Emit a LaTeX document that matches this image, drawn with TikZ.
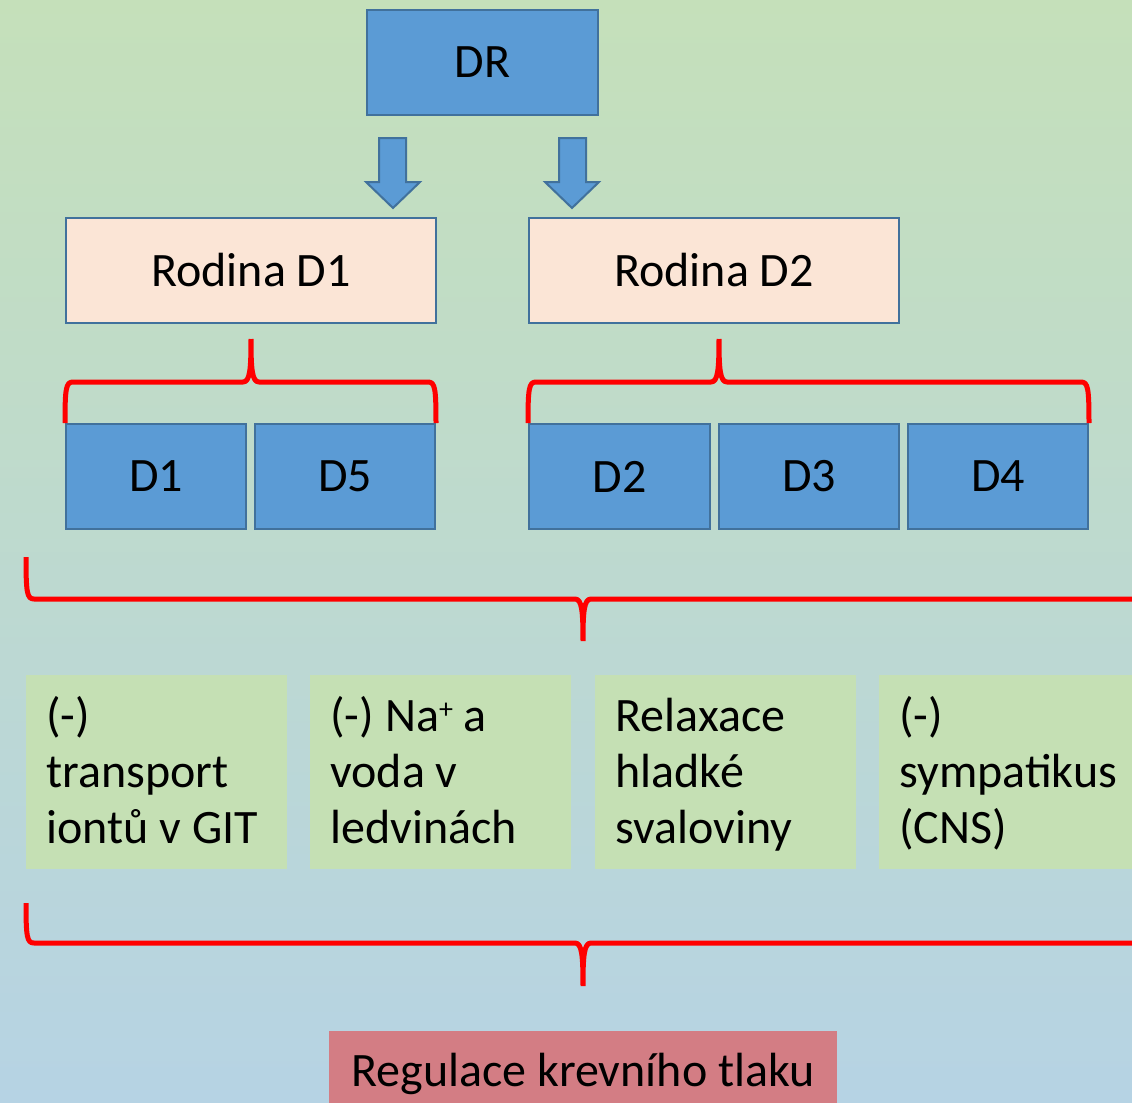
\documentclass[tikz,border=0pt]{standalone}
\usepackage{fontspec}
\setmainfont{Carlito}
\usetikzlibrary{calc}
\definecolor{bgtop}{HTML}{C5E0BA}
\definecolor{bgbot}{HTML}{B6D3E4}
\definecolor{boxblue}{HTML}{5B9BD5}
\definecolor{boxedge}{HTML}{41719C}
\definecolor{boxpeach}{HTML}{FBE5D6}
\definecolor{boxgreen}{HTML}{C5E0B4}
\definecolor{boxred}{HTML}{D37D84}
\newcommand\drawredbrace[4]{%
  \coordinate (bL) at (#1 |- #4);
  \coordinate (bR) at (#2 |- #4);
  \coordinate (bT) at (#3 |- #4);
  \draw[redbrace] (#1) .. controls ($(#1)!0.85!(bL)$) and ($(bL)+(1,0)$) .. ($(bL)+(8,0)$)
     -- ($(bT)+(-8,0)$) .. controls ($(bT)+(-1,0)$) and ($(bT)!0.3!(#3)$) .. (#3)
     (#3) .. controls ($(bT)!0.3!(#3)$) and ($(bT)+(1,0)$) .. ($(bT)+(8,0)$)
     -- ($(bR)+(-8,0)$) .. controls ($(bR)+(-1,0)$) and ($(#2)!0.85!(bR)$) .. (#2);
}
\begin{document}
\begin{tikzpicture}[x=0.5pt,y=-0.5pt,
  every node/.style={font=\fontsize{24pt}{28pt}\selectfont, text=black},
  bluebox/.style={draw=boxedge, line width=1pt, fill=boxblue, minimum height=52.5pt, inner sep=0pt},
  peachbox/.style={draw=boxedge, line width=1pt, fill=boxpeach, minimum width=185pt, minimum height=52.5pt, inner sep=0pt},
  greenbox/.style={fill=boxgreen, anchor=north west, inner xsep=10pt, inner ysep=0pt,
     text width=110.5pt, text height=28pt, text depth=69pt, align=flush left},
  blockarrow/.style={draw=boxedge, line width=1pt, fill=boxblue, line join=miter},
  redbrace/.style={draw=red, line width=2.5pt, line cap=butt, line join=round}]
\useasboundingbox (0,0) rectangle (1132,1103);
\clip (0,0) rectangle (1132,1103);
\fill[top color=bgtop, bottom color=bgbot] (0,0) rectangle (1132,1103);

% top
\node[bluebox, minimum width=115.5pt] (dr) at (482.5,62.5) {DR};
\draw[blockarrow] (379,138) -- (406,138) -- (406,182) -- (420,182) -- (393,208) -- (366,182) -- (379,182) -- cycle;
\draw[blockarrow] (559,138) -- (586,138) -- (586,182) -- (599,182) -- (572,208) -- (545,182) -- (559,182) -- cycle;

\node[peachbox] (rod1) at (251,270.5) {Rodina D1};
\node[peachbox] (rod2) at (714,270.5) {Rodina D2};

\node[bluebox, minimum width=90pt] (d1) at (156,476.5) {D1};
\node[bluebox, minimum width=90pt] (d5) at (345,476.5) {D5};
\node[bluebox, minimum width=90.5pt] (d2) at (619.5,476.5) {D2};
\node[bluebox, minimum width=90pt] (d3) at (809,476.5) {D3};
\node[bluebox, minimum width=90pt] (d4) at (998,476.5) {D4};

% small braces
\coordinate (tA) at (251,339);
\coordinate (mA) at (0,382);
\drawredbrace{d1.north west}{d5.north east}{tA}{mA}
\coordinate (tC) at (719,339);
\coordinate (mC) at (0,382);
\drawredbrace{d2.north west}{d4.north east}{tC}{mC}

% big brace 1
\coordinate (lB) at (26,557);
\coordinate (rB) at (1160,557);
\coordinate (tB) at (583,641);
\coordinate (mB) at (0,599);
\drawredbrace{lB}{rB}{tB}{mB}

% green boxes
\node[greenbox] (g1) at (26,675) {(-)\\transport\\iontů v GIT};
\node[greenbox] (g2) at (310,675) {(-) Na\raisebox{0.55ex}{\fontsize{14pt}{14pt}\selectfont +} a\\voda v\\ledvinách};
\node[greenbox] (g3) at (595,675) {Relaxace\\hladké\\svaloviny};
\node[greenbox] (g4) at (879,675) {(-)\\sympatikus\\(CNS)};

% big brace 2
\coordinate (lD) at (26,903);
\coordinate (rD) at (1160,903);
\coordinate (tD) at (583,986);
\coordinate (mD) at (0,943);
\drawredbrace{lD}{rD}{tD}{mD}

% bottom
\node[fill=boxred, anchor=north, minimum width=254pt, inner ysep=0pt,
      text height=27.35pt, text depth=30pt] (reg) at (583,1031) {Regulace krevního tlaku};
\end{tikzpicture}
\end{document}
